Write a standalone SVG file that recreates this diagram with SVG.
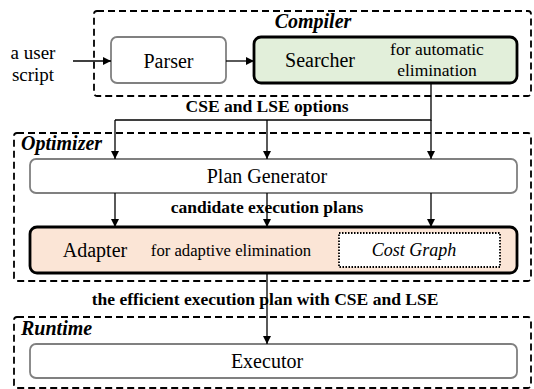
<svg xmlns="http://www.w3.org/2000/svg" width="534" height="389" viewBox="0 0 534 389">
<defs>
<marker id="ah" viewBox="0 0 10 10" refX="10" refY="5" markerWidth="9" markerHeight="8" markerUnits="userSpaceOnUse" orient="auto">
<path d="M0,0 L10,5 L0,10 Z" fill="#000"/>
</marker>
</defs>
<style>
text{font-family:"Liberation Serif","Times New Roman",serif;fill:#000}
.grp{fill:none;stroke:#000;stroke-width:1.8;stroke-dasharray:7 4}
.gl{font-weight:bold;font-style:italic;font-size:20px}
.lbl{font-weight:bold;font-size:17.5px;text-anchor:middle}
.nm{font-size:20px;text-anchor:middle}
.sub{font-size:17.5px;text-anchor:middle}
.gray{fill:#fff;stroke:#808080;stroke-width:1.8}
.thick{stroke:#000;stroke-width:2.8}
.cn{fill:none;stroke:#000;stroke-width:1.3}
</style>
<g id="compiler">
<rect class="grp" x="94" y="11" width="437" height="85" rx="3"/>
<text class="gl" x="313" y="28" text-anchor="middle">Compiler</text>
</g>
<g id="optimizer">
<rect class="grp" x="14" y="133" width="517" height="148" rx="3"/>
<text class="gl" x="21" y="150">Optimizer</text>
</g>
<g id="runtime">
<rect class="grp" x="14" y="317" width="517" height="71" rx="3"/>
<text class="gl" x="21" y="335">Runtime</text>
</g>
<g id="input">
<text class="sub" x="33" y="59" style="font-size:19px">a user</text>
<text class="sub" x="33" y="81" style="font-size:19px">script</text>
</g>
<g id="parser">
<rect class="gray" x="111" y="37" width="115" height="46" rx="6"/>
<text class="nm" x="168.5" y="68">Parser</text>
</g>
<g id="searcher">
<rect class="thick" x="254" y="37" width="263" height="46" rx="7" fill="#e2efda"/>
<text class="nm" x="320" y="67">Searcher</text>
<text class="sub" x="437" y="55">for automatic</text>
<text class="sub" x="437" y="76">elimination</text>
</g>
<g id="plan-generator">
<rect class="gray" x="30" y="159" width="487" height="34" rx="6"/>
<text class="nm" x="267" y="183">Plan Generator</text>
</g>
<g id="adapter">
<rect class="thick" x="30" y="227" width="487" height="46" rx="7" fill="#fbe5d6"/>
<text class="nm" x="95" y="257">Adapter</text>
<text class="sub" x="231" y="256" style="font-size:16.7px">for adaptive elimination</text>
</g>
<g id="cost-graph">
<rect x="339" y="233" width="161" height="34" fill="#fff" stroke="#000" stroke-width="1.8" stroke-dasharray="1.5 1.5"/>
<text class="nm" x="414" y="256" style="font-style:italic;font-size:18px">Cost Graph</text>
</g>
<g id="executor">
<rect class="gray" x="30" y="344" width="487" height="34" rx="6"/>
<text class="nm" x="267" y="368">Executor</text>
</g>
<g id="connectors">
<line class="cn" x1="73" y1="61" x2="111" y2="61" marker-end="url(#ah)"/>
<line class="cn" x1="226" y1="61" x2="254" y2="61" marker-end="url(#ah)"/>
<polyline class="cn" points="431,83 431,120 115,120"/>
<line class="cn" x1="115" y1="120" x2="115" y2="159" marker-end="url(#ah)"/>
<line class="cn" x1="267" y1="120" x2="267" y2="159" marker-end="url(#ah)"/>
<line class="cn" x1="431" y1="120" x2="431" y2="159" marker-end="url(#ah)"/>
<line class="cn" x1="115" y1="193" x2="115" y2="227" marker-end="url(#ah)"/>
<line class="cn" x1="267" y1="193" x2="267" y2="227" marker-end="url(#ah)"/>
<line class="cn" x1="431" y1="193" x2="431" y2="227" marker-end="url(#ah)"/>
<line class="cn" x1="267" y1="273" x2="267" y2="344" marker-end="url(#ah)"/>
</g>
<g id="labels">
<text class="lbl" x="267" y="112">CSE and LSE options</text>
<text class="lbl" x="267" y="213">candidate execution plans</text>
<text class="lbl" x="265" y="305">the efficient execution plan with CSE and LSE</text>
</g>
</svg>
